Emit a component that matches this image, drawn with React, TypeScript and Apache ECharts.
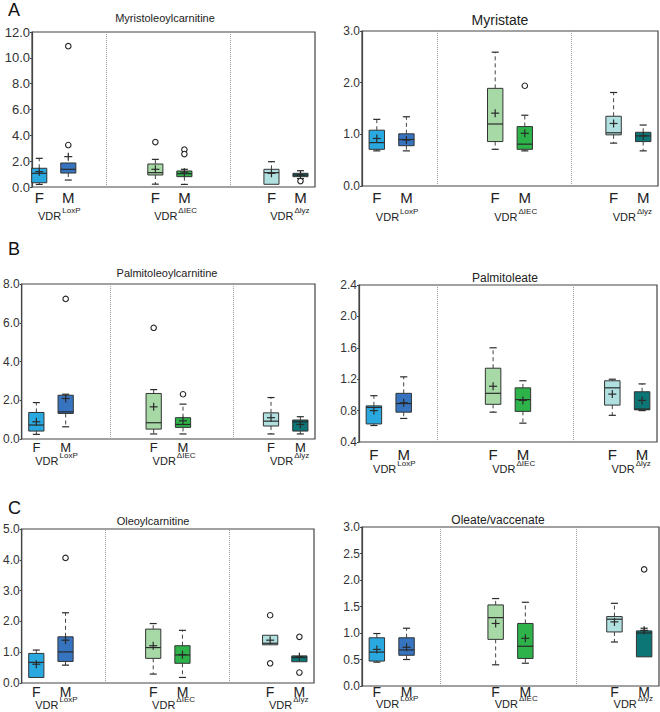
import React, { useEffect, useRef } from "react";
import * as echarts from "echarts";

// ---------- data ----------
const groupLabels = ["LoxP", "\u0394IEC", "\u0394lyz"];
const sexLabels = ["F", "M"];

// box stats: [min, Q1, median, Q3, max] for LoxP F, LoxP M, ΔIEC F, ΔIEC M, Δlyz F, Δlyz M
const myristoleoylcarnitineBoxes = [
  [0.2, 0.33, 1.06, 1.45, 2.22],
  [0.54, 1.08, 1.37, 1.86, 1.86],
  [0.22, 0.93, 1.11, 1.78, 2.14],
  [0.2, 0.8, 1.03, 1.24, 1.37],
  [0.21, 0.21, 1.11, 1.37, 1.96],
  [0.65, 0.8, 0.93, 1.06, 1.26],
];
const myristoleoylcarnitineMeans = [1.19, 2.35, 1.37, 1.15, 1.06, 0.93];
const myristoleoylcarnitineOutliers = [[1, 3.25], [1, 10.9], [2, 3.48], [3, 2.9], [3, 2.55], [5, 0.46]];

const myristateBoxes = [
  [0.68, 0.71, 0.84, 1.08, 1.29],
  [0.68, 0.78, 0.9, 1.01, 1.34],
  [0.71, 0.86, 1.2, 1.89, 2.59],
  [0.68, 0.71, 0.81, 1.15, 1.37],
  [0.83, 0.99, 1.03, 1.35, 1.81],
  [0.68, 0.86, 0.97, 1.04, 1.18],
];
const myristateMeans = [0.92, 0.89, 1.41, 1.02, 1.21, 0.97];
const myristateOutliers = [[3, 1.94]];

const palmitoleoylcarnitineBoxes = [
  [0.24, 0.41, 0.72, 1.37, 1.88],
  [0.63, 1.32, 1.4, 2.26, 2.31],
  [0.26, 0.51, 0.84, 2.35, 2.55],
  [0.26, 0.6, 0.75, 1.1, 1.8],
  [0.26, 0.67, 0.92, 1.35, 2.14],
  [0.26, 0.41, 0.89, 0.98, 1.15],
];
const palmitoleoylcarnitineMeans = [0.89, 2.09, 1.66, 0.94, 1.1, 0.75];
const palmitoleoylcarnitineOutliers = [[1, 7.23], [2, 5.74], [3, 2.31]];

const palmitoleateBoxes = [
  [0.61, 0.63, 0.84, 0.86, 0.99],
  [0.7, 0.78, 0.89, 1.02, 1.23],
  [0.78, 0.88, 1.02, 1.34, 1.6],
  [0.64, 0.79, 0.94, 1.09, 1.18],
  [0.74, 0.87, 1.09, 1.18, 1.2],
  [0.8, 0.81, 0.82, 1.04, 1.14],
];
const palmitoleateMeans = [0.8, 0.9, 1.11, 0.93, 1.01, 0.93];
const palmitoleateOutliers: number[][] = [];

const oleoylcarnitineBoxes = [
  [0.18, 0.18, 0.67, 0.96, 1.07],
  [0.58, 0.7, 1.01, 1.5, 2.28],
  [0.29, 0.8, 1.15, 1.75, 1.93],
  [0.18, 0.64, 0.91, 1.21, 1.71],
  [1.24, 1.24, 1.29, 1.55, 1.55],
  [0.69, 0.69, 0.83, 0.88, 0.88],
];
const oleoylcarnitineMeans = [0.61, 1.39, 1.21, 0.92, 1.39, 0.85];
const oleoylcarnitineOutliers = [[1, 4.06], [4, 2.2], [4, 0.64], [5, 1.5], [5, 0.34]];

const oleateBoxes = [
  [0.45, 0.47, 0.64, 0.91, 0.99],
  [0.5, 0.58, 0.68, 0.91, 1.09],
  [0.4, 0.88, 1.29, 1.53, 1.65],
  [0.43, 0.52, 0.75, 1.18, 1.58],
  [0.83, 1.02, 1.26, 1.31, 1.56],
  [0.55, 0.55, 1.0, 1.04, 1.09],
];
const oleateMeans = [0.69, 0.73, 1.18, 0.9, 1.21, 1.05];
const oleateOutliers = [[5, 2.2]];

// ---------- layout / style ----------
const FONT = "'Liberation Sans', Arial, sans-serif";
const POS = [0.5, 1.5, 4.5, 5.5, 8.5, 9.5];
const BOX_W = 0.52;
const CAP_W = 0.24;
const FILLS = ["#2aa9e0", "#3674c0", "#a6d9a6", "#2db34a", "#b0e0df", "#0b7675"];

const panels = [
  { title: "Myristoleoylcarnitine", tx: 165, ty: 18, ts: 11, grid: [32, 32, 283, 155], xMin: 0.25, yMin: 0, yMax: 12, yInt: 2, yFont: 13, seps: [2.8, 7.08], fmOff: 10, vdrOff: 29, fmSize: 15, boxes: myristoleoylcarnitineBoxes, means: myristoleoylcarnitineMeans, outliers: myristoleoylcarnitineOutliers },
  { title: "Myristate", tx: 500, ty: 20, ts: 14, grid: [362, 31, 296, 155], xMin: 0, yMin: 0, yMax: 3, yInt: 1, yFont: 12, seps: [2.53, 7.06], fmOff: 11, vdrOff: 31, fmSize: 15, boxes: myristateBoxes, means: myristateMeans, outliers: myristateOutliers },
  { title: "Palmitoleoylcarnitine", tx: 167, ty: 273, ts: 11, grid: [17, 284, 298, 155], xMin: 0, yMin: 0, yMax: 8, yInt: 2, yFont: 12, seps: [3.02, 7.21], fmOff: 8, vdrOff: 22, fmSize: 13, boxes: palmitoleoylcarnitineBoxes, means: palmitoleoylcarnitineMeans, outliers: palmitoleoylcarnitineOutliers },
  { title: "Palmitoleate", tx: 505, ty: 278, ts: 12, grid: [359, 285, 298, 157], xMin: 0, yMin: 0.4, yMax: 2.4, yInt: 0.4, yFont: 12, seps: [2.62, 7.18], fmOff: 12, vdrOff: 27, fmSize: 15, boxes: palmitoleateBoxes, means: palmitoleateMeans, outliers: palmitoleateOutliers },
  { title: "Oleoylcarnitine", tx: 153, ty: 521, ts: 11, grid: [17, 529, 297, 154], xMin: 0, yMin: 0, yMax: 5, yInt: 1, yFont: 12, seps: [2.86, 7.1], fmOff: 9, vdrOff: 22, fmSize: 14, boxes: oleoylcarnitineBoxes, means: oleoylcarnitineMeans, outliers: oleoylcarnitineOutliers },
  { title: "Oleate/vaccenate", tx: 498, ty: 520, ts: 12, grid: [362, 527, 297, 159], xMin: 0, yMin: 0, yMax: 3, yInt: 0.5, yFont: 12, seps: [2.62, 7.21], fmOff: 6, vdrOff: 18, fmSize: 14, boxes: oleateBoxes, means: oleateMeans, outliers: oleateOutliers },
];

const letters = [
  { t: "A", x: 8, y: 1 },
  { t: "B", x: 8, y: 240 },
  { t: "C", x: 8, y: 499 },
];

function txt(x: number, y: number, text: string, size: number, align: string) {
  return {
    type: "text",
    x,
    y,
    style: { text, fill: "#222", font: `${size}px ${FONT}`, align, verticalAlign: "middle", textAlign: align, textVerticalAlign: "middle" },
  };
}

function makeRender(p: any) {
  return (params: any, api: any) => {
    const i = params.dataIndex;
    const x = api.value(0);
    const mn = api.value(1), q1 = api.value(2), md = api.value(3), q3 = api.value(4), mx = api.value(5), mean = api.value(6);
    const c = (v: number) => api.coord([x, v]);
    const cx = c(md)[0];
    const hw = api.size([BOX_W, 0])[0] / 2;
    const cw = api.size([CAP_W, 0])[0] / 2;
    const yq1 = c(q1)[1], yq3 = c(q3)[1], ymd = c(md)[1], ymn = c(mn)[1], ymx = c(mx)[1], ym = c(mean)[1];
    const dark = "#2a2a2a";
    const kids: any[] = [];
    if (mx > q3) {
      kids.push({ type: "line", shape: { x1: cx, y1: yq3, x2: cx, y2: ymx }, style: { stroke: "#444", lineWidth: 1, lineDash: [4, 3] } });
      kids.push({ type: "line", shape: { x1: cx - cw, y1: ymx, x2: cx + cw, y2: ymx }, style: { stroke: dark, lineWidth: 1.2 } });
    }
    if (mn < q1) {
      kids.push({ type: "line", shape: { x1: cx, y1: yq1, x2: cx, y2: ymn }, style: { stroke: "#444", lineWidth: 1, lineDash: [4, 3] } });
      kids.push({ type: "line", shape: { x1: cx - cw, y1: ymn, x2: cx + cw, y2: ymn }, style: { stroke: dark, lineWidth: 1.2 } });
    }
    kids.push({ type: "rect", shape: { x: cx - hw, y: yq3, width: hw * 2, height: Math.max(yq1 - yq3, 1) }, style: { fill: FILLS[i], stroke: "#333", lineWidth: 1 } });
    kids.push({ type: "line", shape: { x1: cx - hw, y1: ymd, x2: cx + hw, y2: ymd }, style: { stroke: dark, lineWidth: 1.2 } });
    kids.push({ type: "line", shape: { x1: cx - 4, y1: ym, x2: cx + 4, y2: ym }, style: { stroke: dark, lineWidth: 1.2 } });
    kids.push({ type: "line", shape: { x1: cx, y1: ym - 4, x2: cx, y2: ym + 4 }, style: { stroke: dark, lineWidth: 1.2 } });
    const bottom = params.coordSys.y + params.coordSys.height;
    kids.push(txt(cx, bottom + p.fmOff, sexLabels[i % 2], p.fmSize, "center"));
    if (i % 2 === 0) {
      const xm = api.coord([POS[i + 1], md])[0];
      const ax = (cx + xm) / 2 + 8;
      const yv = bottom + p.vdrOff;
      kids.push(txt(ax - 0.5, yv, "VDR", 11, "right"));
      kids.push(txt(ax + 0.5, yv - 6, groupLabels[i / 2], 8, "left"));
    }
    return { type: "group", children: kids };
  };
}

export default function App() {
  const ref = useRef<HTMLDivElement>(null);
  useEffect(() => {
    document.body.style.margin = "0";
    if (!ref.current) return;
    const chart = echarts.init(ref.current, undefined, { renderer: "svg" });
    const grid: any[] = [];
    const xAxis: any[] = [];
    const yAxis: any[] = [];
    const series: any[] = [];
    const graphic: any[] = [];
    panels.forEach((p, k) => {
      grid.push({ left: p.grid[0], top: p.grid[1], width: p.grid[2], height: p.grid[3], show: true, borderColor: "#444", borderWidth: 1.2, backgroundColor: "transparent" });
      xAxis.push({ gridIndex: k, type: "value", min: p.xMin, max: 10, show: false });
      yAxis.push({
        gridIndex: k, type: "value", min: p.yMin, max: p.yMax, interval: p.yInt,
        axisLine: { show: true, lineStyle: { color: "#444", width: 1.2 } },
        axisTick: { show: true, length: 2, lineStyle: { color: "#444" } },
        splitLine: { show: false },
        axisLabel: { formatter: (v: number) => v.toFixed(1), fontSize: p.yFont, color: "#333", margin: 2, fontFamily: FONT },
      });
      series.push({
        type: "custom", xAxisIndex: k, yAxisIndex: k, clip: false, silent: true,
        renderItem: makeRender(p),
        encode: { x: 0, y: [1, 2, 3, 4, 5] },
        data: p.boxes.map((b, i) => [POS[i], ...b, p.means[i]]),
        markLine: {
          silent: true, symbol: ["none", "none"], label: { show: false },
          lineStyle: { type: "dotted", color: "#9a9a9a", width: 1 },
          data: p.seps.map((s) => ({ xAxis: s })),
        },
      });
      series.push({
        type: "scatter", xAxisIndex: k, yAxisIndex: k, silent: true, z: 5,
        symbol: "circle", symbolSize: 5.5,
        itemStyle: { color: "#fff", borderColor: "#222", borderWidth: 1.1, opacity: 1 },
        data: p.outliers.map(([i, v]) => [POS[i], v]),
      });
      graphic.push({
        type: "text", x: p.tx, y: p.ty,
        style: { text: p.title, font: `${p.ts}px ${FONT}`, fill: "#222", align: "center", verticalAlign: "middle", textAlign: "center", textVerticalAlign: "middle" },
      });
    });
    letters.forEach((l) => {
      graphic.push({ type: "text", x: l.x, y: l.y, style: { text: l.t, font: `18px ${FONT}`, fill: "#111", align: "left", verticalAlign: "top" } });
    });
    chart.setOption({
      animation: false,
      backgroundColor: "#fff",
      textStyle: { fontFamily: FONT },
      grid, xAxis, yAxis, series, graphic,
    });
    return () => chart.dispose();
  }, []);
  return <div ref={ref} style={{ width: 660, height: 712 }} />;
}
